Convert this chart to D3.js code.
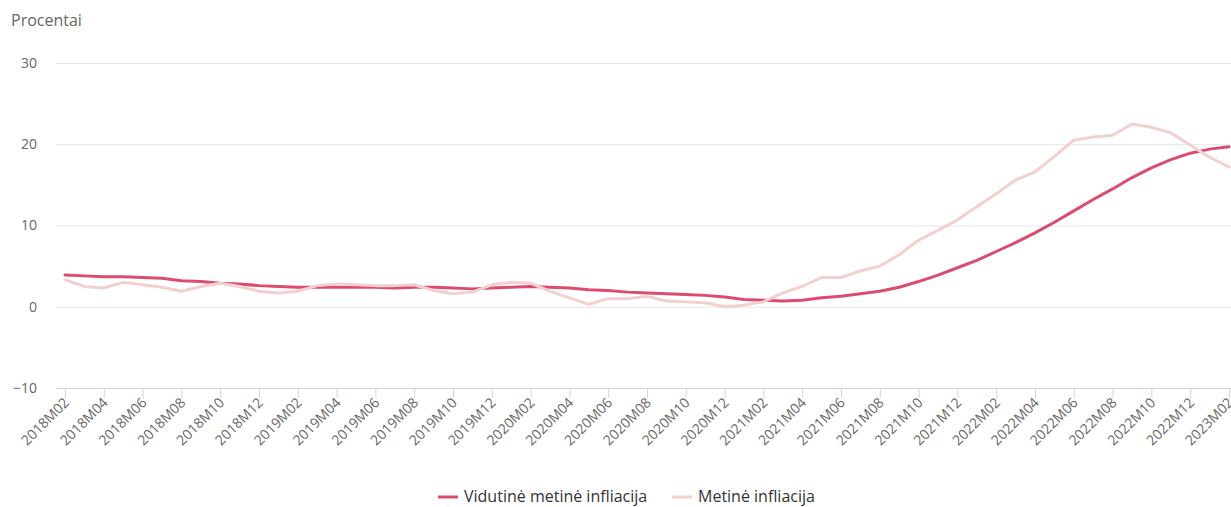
<!DOCTYPE html>
<html>
<head>
<meta charset="utf-8">
<script src="https://cdn.jsdelivr.net/npm/d3@7"></script>
<style>
  body {margin: 0; background: #fff;}
  svg {font-family: "Open Sans", "Noto Sans", sans-serif;}
</style>
</head>
<body>
<svg width="1231" height="507"></svg>
<script>
/*** Data ***/
const years = ["2018", "2019", "2020", "2021", "2022", "2023"]
const months = ["M01","M02","M03","M04","M05","M06","M07","M08","M09","M10","M11","M12"]
// 2018M02 .. 2023M02
const categories = []
years.forEach((y) => months.forEach((m) => categories.push(y + m)))
categories.splice(0, 1)
categories.splice(61)

const avgInflation = [
  3.9, 3.8, 3.7, 3.7, 3.6, 3.5, 3.2, 3.1, 2.9, 2.8, 2.6,
  2.5, 2.4, 2.4, 2.4, 2.4, 2.4, 2.3, 2.4, 2.4, 2.3, 2.2, 2.3,
  2.4, 2.5, 2.4, 2.3, 2.1, 2.0, 1.8, 1.7, 1.6, 1.5, 1.4, 1.2,
  0.9, 0.8, 0.7, 0.8, 1.1, 1.3, 1.6, 1.9, 2.4, 3.1, 3.9, 4.8,
  5.7, 6.8, 7.9, 9.1, 10.4, 11.8, 13.2, 14.5, 15.9, 17.1, 18.1, 18.9,
  19.4, 19.7
]
const annualInflation = [
  3.3, 2.5, 2.3, 3.0, 2.7, 2.4, 1.9, 2.5, 2.9, 2.5, 1.9,
  1.7, 1.9, 2.6, 2.8, 2.7, 2.6, 2.6, 2.7, 2.0, 1.6, 1.8, 2.7,
  3.0, 2.9, 1.9, 1.1, 0.3, 1.0, 1.0, 1.3, 0.7, 0.6, 0.5, 0.0,
  0.2, 0.6, 1.7, 2.5, 3.6, 3.6, 4.4, 5.0, 6.4, 8.2, 9.4, 10.7,
  12.3, 13.9, 15.6, 16.6, 18.5, 20.5, 20.9, 21.1, 22.5, 22.1, 21.4, 19.9,
  18.4, 17.2
]
const yTicks = [-10, 0, 10, 20, 30]
const seriesNames = ["Vidutinė metinė infliacija", "Metinė infliacija"]
const seriesColors = ["#dc4c6e", "#f2d0d0"]

/*** Setup ***/
const svg = d3.select("svg")
const GRIDL = 56, GRIDR = 1231

const x = d3.scalePoint().domain(categories).range([65, 1229])
const y = d3.scaleLinear().domain([-10, 30]).range([388, 63])

// title
svg.append("text")
   .attr("x", 11).attr("y", 26)
   .attr("fill", "#666").attr("font-size", 16)
   .text("Procentai")

// y grid + labels
const yAxis = svg.append("g")
  .attr("transform", "translate(" + GRIDL + ",0)")
  .call(d3.axisLeft(y).tickValues(yTicks).tickSize(-(GRIDR - GRIDL)).tickPadding(19))
yAxis.select(".domain").remove()
yAxis.selectAll("line").attr("stroke", "#e6e6e6")
yAxis.selectAll("text").attr("fill", "#666").attr("font-size", 14)
     .attr("font-family", "Open Sans, Noto Sans, sans-serif")

// x axis
const xAxis = svg.append("g")
  .attr("transform", "translate(0," + y(-10) + ")")
  .call(d3.axisBottom(x).tickValues(categories.filter((d, i) => i % 2 == 0)).tickSize(10).tickSizeOuter(0))
xAxis.select(".domain").attr("d", "M" + GRIDL + ",0.5H" + GRIDR).attr("stroke", "#ccd6eb")
xAxis.selectAll("line").attr("stroke", "#ccd6eb")
xAxis.selectAll("text")
     .attr("fill", "#666").attr("font-size", 14)
     .attr("font-family", "Open Sans, Noto Sans, sans-serif")
     .attr("text-anchor", "end")
     .attr("y", 0).attr("dy", "0.35em")
     .attr("transform", "translate(1,12) rotate(-45)")

// lines
const line = d3.line().x((d, i) => x(categories[i])).y((d) => y(d))
const series = [avgInflation, annualInflation]
series.forEach((s, k) => {
  svg.append("path")
     .datum(s)
     .attr("fill", "none")
     .attr("stroke", seriesColors[k])
     .attr("stroke-width", 3)
     .attr("stroke-linejoin", "round")
     .attr("stroke-linecap", "round")
     .attr("d", line)
})

// legend
const legend = svg.append("g").attr("font-size", 16).attr("fill", "#333")
const lx = [438, 672]
seriesNames.forEach((n, k) => {
  legend.append("line")
        .attr("x1", lx[k]).attr("x2", lx[k] + 20)
        .attr("y1", 497).attr("y2", 497)
        .attr("stroke", seriesColors[k]).attr("stroke-width", 3)
  legend.append("text")
        .attr("x", lx[k] + 26).attr("y", 502)
        .text(n)
})
</script>
</body>
</html>
